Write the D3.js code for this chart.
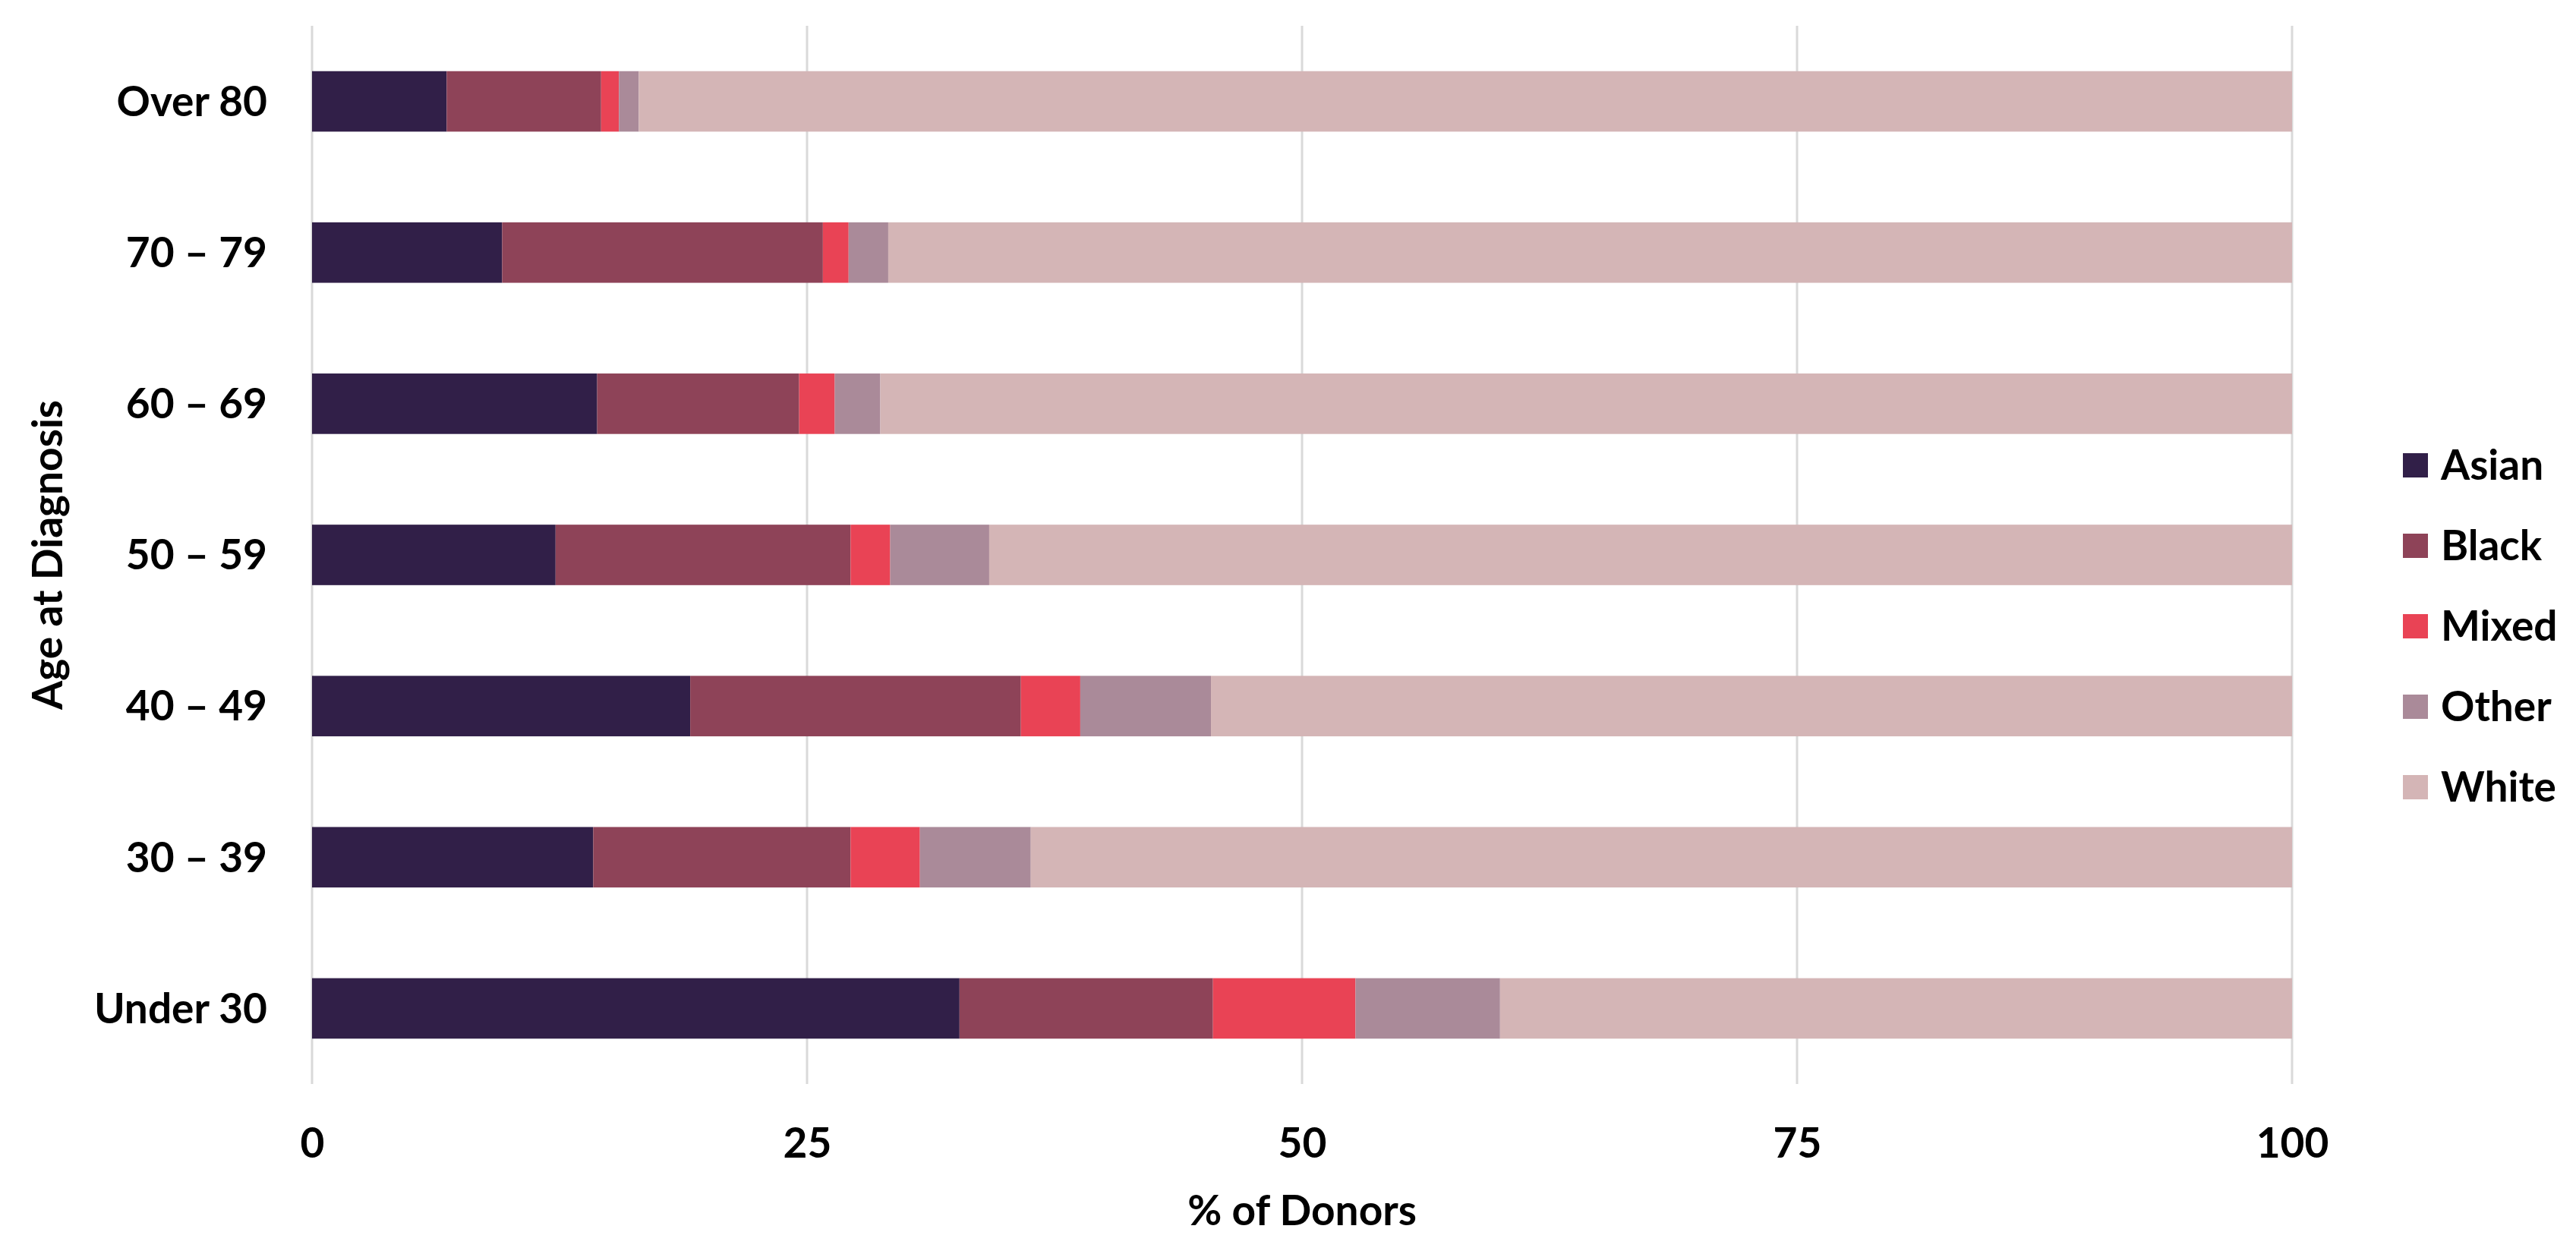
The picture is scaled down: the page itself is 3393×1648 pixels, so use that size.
<!DOCTYPE html>
<html>
<head>
<meta charset="utf-8">
<script src="https://cdn.jsdelivr.net/npm/d3@7"></script>
<style>
  html, body { margin: 0; padding: 0; background: #ffffff; }
  svg { display: block; }
  text { font-family: Lato, "Open Sans", sans-serif; font-weight: 700; fill: #000; }
</style>
</head>
<body>
<svg id="chart" width="3393" height="1648"></svg>
<script>
const categories = ["Over 80", "70 – 79", "60 – 69", "50 – 59", "40 – 49", "30 – 39", "Under 30"];
const seriesNames = ["Asian", "Black", "Mixed", "Other", "White"];
const asian = [6.8, 9.6, 14.4, 12.3, 19.1, 14.2, 32.7];
const black = [7.8, 16.2, 10.2, 14.9, 16.7, 13.0, 12.8];
const mixed = [0.9, 1.3, 1.8, 2.0, 3.0, 3.5, 7.2];
const other = [1.0, 2.0, 2.3, 5.0, 6.6, 5.6, 7.3];
const white = [83.5, 70.9, 71.3, 65.8, 54.6, 63.7, 40.0];
const xTicks = [0, 25, 50, 75, 100];
const colors = ["#311f48", "#8e4358", "#e94355", "#aa8a99", "#d4b5b6"];

const rows = categories.map((c, i) => ({
  cat: c, Asian: asian[i], Black: black[i], Mixed: mixed[i], Other: other[i], White: white[i]
}));

const svg = d3.select("#chart");
const m = { left: 411, right: 3019, top: 34, bottom: 1428 };

const x = d3.scaleLinear().domain([0, 100]).range([m.left, m.right]);
const y = d3.scaleBand().domain(categories).range([m.top, m.bottom])
  .paddingInner(0.6).paddingOuter(0.3);
const color = d3.scaleOrdinal().domain(seriesNames).range(colors);

// gridlines
svg.append("g").selectAll("line").data(xTicks).join("line")
  .attr("x1", d => x(d)).attr("x2", d => x(d))
  .attr("y1", m.top).attr("y2", m.bottom)
  .attr("stroke", "#d9d9d9").attr("stroke-width", 3);

// stacked bars
const stacked = d3.stack().keys(seriesNames)(rows);
svg.append("g").selectAll("g").data(stacked).join("g")
  .attr("fill", d => color(d.key))
  .selectAll("rect").data(d => d).join("rect")
  .attr("x", d => x(d[0]))
  .attr("width", d => x(d[1]) - x(d[0]))
  .attr("y", d => y(d.data.cat))
  .attr("height", y.bandwidth());

// x axis labels
const xAxis = d3.axisBottom(x).tickValues(xTicks).tickSize(0).tickPadding(0);
const gx = svg.append("g").attr("transform", `translate(0, 1506)`).call(xAxis);
gx.select(".domain").remove();
gx.selectAll("text").attr("dy", "0.35em").attr("y", 0)
  .style("font-size", "55px").style("font-family", "Lato, 'Open Sans', sans-serif").style("font-weight", 700).attr("fill", "#000");

// y axis labels
const yAxis = d3.axisLeft(y).tickSize(0).tickPadding(0);
const gy = svg.append("g").attr("transform", `translate(352, 0)`).call(yAxis);
gy.select(".domain").remove();
gy.selectAll("text").attr("dy", "0.35em").attr("x", 0)
  .style("font-size", "55px").style("font-family", "Lato, 'Open Sans', sans-serif").style("font-weight", 700).attr("fill", "#000");

// axis titles
svg.append("text")
  .attr("x", (m.left + m.right) / 2).attr("y", 1614)
  .attr("text-anchor", "middle").style("font-size", "55px")
  .text("% of Donors");
svg.append("text")
  .attr("transform", `translate(82, ${(m.top + m.bottom) / 2}) rotate(-90)`)
  .attr("text-anchor", "middle").style("font-size", "55px")
  .text("Age at Diagnosis");

// legend
const legend = svg.append("g").selectAll("g").data(seriesNames).join("g")
  .attr("transform", (d, i) => `translate(3165, ${613 + i * 106})`);
legend.append("rect").attr("x", 0).attr("y", -16).attr("width", 33).attr("height", 32)
  .attr("fill", d => color(d));
legend.append("text").attr("x", 50).attr("y", 0).attr("dy", "0.35em")
  .style("font-size", "55px").text(d => d);
</script>
</body>
</html>
